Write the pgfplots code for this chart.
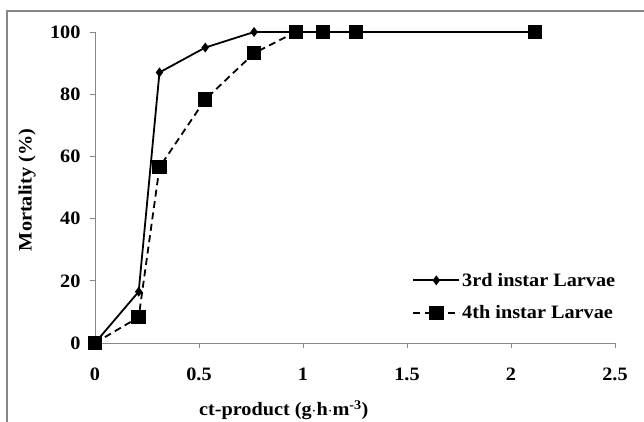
\documentclass[border=0pt]{standalone}
\usepackage{pgfplots}
\pgfplotsset{compat=1.18}
\usepackage{fontspec}
\setmainfont{Liberation Serif}[FakeStretch=1.07]
\definecolor{axgray}{HTML}{878787}
\begin{document}
\begin{tikzpicture}
\begin{axis}[
  scale only axis, width=520bp, height=311bp,
  xmin=0, xmax=2.5, ymin=0, ymax=100,
  xtick={0,0.5,1,1.5,2,2.5}, ytick={0,20,40,60,80,100},
  axis lines*=left, axis line style={axgray, line width=0.8bp},
  tick style={axgray, line width=0.8bp}, tick align=outside, major tick length=5bp,
  /pgf/number format/assume math mode=true,
  ticklabel style={font=\fontsize{19}{21}\selectfont\bfseries},
  xticklabel style={yshift=-16bp},
  yticklabel style={xshift=-6bp},
  xlabel={ct-product (g$\cdot$h$\cdot$m\textsuperscript{-3})},
  ylabel={Mortality (\%)},
  label style={font=\fontsize{19}{21}\selectfont\bfseries},
  xlabel style={at={(rel axis cs:0.363,-0.2154)}, anchor=center},
  ylabel style={at={(rel axis cs:-0.1308,0.492)}, anchor=center, rotate=0},
  clip=false,
  legend cell align=left,
  legend style={draw=none, fill=none, at={(rel axis cs:0.61,0.232)}, anchor=north west,
    font=\fontsize{19}{21}\selectfont\bfseries, row sep=14bp, inner sep=0pt},
  legend image code/.code={\draw[mark repeat=2,mark phase=2,#1] plot coordinates {(0bp,0bp) (23bp,0bp) (46bp,0bp)};},
]
\addplot[black, line width=1.8bp, mark=diamond*, mark size=3.5bp, mark options={solid}]
  coordinates {(0,0) (0.21,16.5) (0.31,87) (0.53,95) (0.765,100) (0.965,100) (1.095,100) (1.255,100) (2.115,100)};
\addlegendentry{3rd instar Larvae}
\addplot[black, line width=1.8bp, dash pattern=on 7bp off 4.5bp, mark=square*, mark size=6.3bp, mark options={solid}]
  coordinates {(0,0) (0.21,8.3) (0.31,56.5) (0.53,78.3) (0.765,93.2) (0.965,100) (1.095,100) (1.255,100) (2.115,100)};
\addlegendentry{4th instar Larvae}
\end{axis}
\draw[axgray, line width=1.3bp] ([xshift=-88bp,yshift=-100bp]current axis.south west) -- ([xshift=-88bp,yshift=332bp]current axis.south west) -- ([xshift=600bp,yshift=332bp]current axis.south west);
\pgfresetboundingbox
\path[use as bounding box] ([xshift=-95bp,yshift=-79bp]current axis.south west) rectangle ([xshift=29bp,yshift=32bp]current axis.north east);
\end{tikzpicture}
\end{document}
